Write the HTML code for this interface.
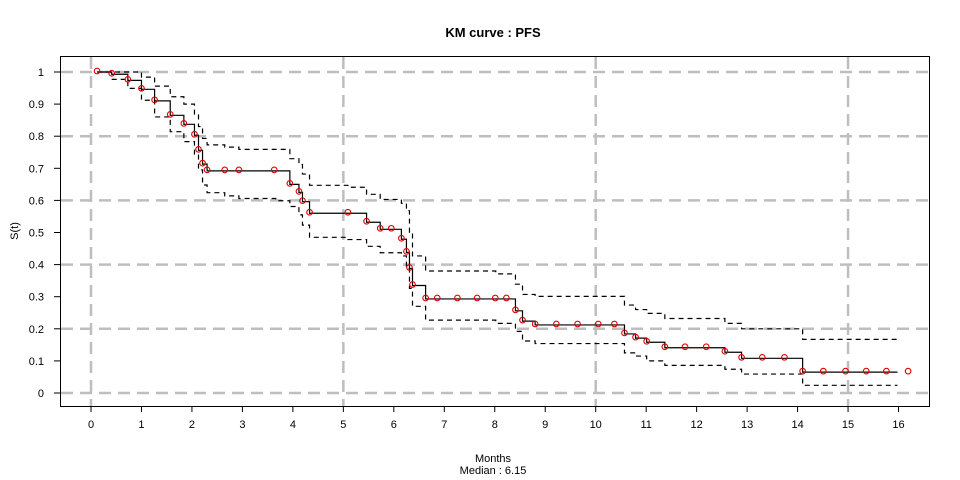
<!DOCTYPE html>
<html><head><meta charset="utf-8"><style>
body{margin:0;background:#fff;}
svg{display:block;font-family:"Liberation Sans",Arial,sans-serif;}
</style></head><body>
<svg id="chart" width="960" height="480" viewBox="0 0 960 480" xmlns="http://www.w3.org/2000/svg">
<text x="493" y="37" text-anchor="middle" font-size="13" font-weight="bold">KM curve : PFS</text>
<text x="0" y="0" transform="translate(18,231) rotate(-90)" text-anchor="middle" font-size="11">S(t)</text>
<text x="493" y="462" text-anchor="middle" font-size="11">Months</text>
<text x="493" y="474" text-anchor="middle" font-size="11">Median : 6.15</text>
<g id="grid"></g><g id="axes"></g><g id="bands"></g><g id="curve"></g><g id="marks"></g>
<rect x="60.5" y="56.5" width="869" height="350" fill="none" stroke="#000" stroke-width="1"/>
</svg>
<script>
const xTicks=[0,1,2,3,4,5,6,7,8,9,10,11,12,13,14,15,16];
const yTicks=[0,0.1,0.2,0.3,0.4,0.5,0.6,0.7,0.8,0.9,1];
const yTickLabels=["0","0.1","0.2","0.3","0.4","0.5","0.6","0.7","0.8","0.9","1"];
const gridX=[0,5,10,15];
const gridY=[0,0.2,0.4,0.6,0.8,1];
const survTimes=[0.12,0.41,0.73,1.0,1.26,1.57,1.84,2.05,2.13,2.21,2.30,3.94,4.12,4.19,4.33,5.46,5.73,6.15,6.25,6.31,6.37,6.63,8.41,8.55,8.80,10.57,10.79,11.01,11.37,12.56,12.89,14.10];
const survValues=[1,0.993,0.974,0.946,0.91,0.865,0.837,0.803,0.756,0.713,0.692,0.650,0.625,0.596,0.560,0.532,0.51,0.479,0.438,0.388,0.335,0.293,0.256,0.224,0.212,0.184,0.171,0.158,0.141,0.127,0.108,0.065];
const upperTimes=[0.12,1.0,1.26,1.57,1.84,2.05,2.13,2.21,2.30,2.65,2.93,3.94,4.12,4.19,4.33,5.09,5.46,5.73,6.15,6.25,6.31,6.37,6.63,8.02,8.41,8.55,8.80,10.57,10.79,11.01,11.37,12.56,12.89,14.10];
const upperValues=[1,0.984,0.956,0.923,0.9,0.866,0.83,0.793,0.773,0.766,0.759,0.73,0.712,0.682,0.647,0.641,0.619,0.603,0.591,0.568,0.50,0.427,0.38,0.371,0.339,0.307,0.301,0.274,0.26,0.248,0.232,0.217,0.2,0.167];
const lowerTimes=[0.41,0.73,1.0,1.26,1.57,1.84,2.05,2.13,2.21,2.30,2.65,2.93,3.66,3.94,4.12,4.19,4.33,5.09,5.46,5.73,6.15,6.25,6.31,6.37,6.63,8.02,8.41,8.55,8.80,10.57,10.79,11.01,11.37,12.56,12.89,14.10];
const lowerValues=[0.977,0.949,0.912,0.86,0.814,0.783,0.741,0.695,0.648,0.624,0.614,0.606,0.599,0.581,0.555,0.523,0.485,0.478,0.457,0.437,0.427,0.388,0.326,0.27,0.227,0.217,0.192,0.162,0.154,0.125,0.115,0.1,0.086,0.074,0.059,0.024];
const endTime=15.98;
const censorTimes=[0.12,0.41,0.73,1.0,1.26,1.57,1.84,2.05,2.13,2.21,2.30,2.65,2.93,3.63,3.94,4.12,4.19,4.33,5.09,5.46,5.73,5.95,6.15,6.25,6.31,6.37,6.63,6.86,7.26,7.65,8.01,8.23,8.41,8.55,8.80,9.22,9.64,10.05,10.37,10.57,10.79,11.01,11.37,11.77,12.19,12.56,12.89,13.30,13.74,14.10,14.51,14.95,15.36,15.76,16.19];

const NS="http://www.w3.org/2000/svg";
const X=t=>91+t*50.47;
const Y=s=>393-s*321;
function mk(tag,attrs,parent){const e=document.createElementNS(NS,tag);for(const k in attrs)e.setAttribute(k,attrs[k]);document.getElementById(parent).appendChild(e);return e;}
function stepPath(ts,vs,end){let d="M"+X(ts[0])+","+Y(vs[0]);for(let i=1;i<ts.length;i++){d+="H"+X(ts[i])+"V"+Y(vs[i]);}d+="H"+X(end);return d;}
function valAt(t){let v=survValues[0];for(let i=0;i<survTimes.length;i++){if(survTimes[i]<=t+1e-9)v=survValues[i];}return v;}

gridX.forEach(g=>{const l=mk("line",{x1:X(g),x2:X(g),y1:57,y2:406,stroke:"#bebebe","stroke-width":2.5,"stroke-dasharray":"12,7"},"grid");

});
gridY.forEach(g=>{const l=mk("line",{x1:61,x2:929,y1:Y(g),y2:Y(g),stroke:"#bebebe","stroke-width":2.5,"stroke-dasharray":"12,7"},"grid");

});
xTicks.forEach(t=>{const l=mk("line",{x1:X(t),x2:X(t),y1:406,y2:412,stroke:"#000"},"axes");


const tx=mk("text",{x:X(t),y:428,"text-anchor":"middle","font-size":"11"},"axes");tx.textContent=String(t);

});
yTicks.forEach((v,i)=>{const l=mk("line",{x1:54,x2:60,y1:Y(v),y2:Y(v),stroke:"#000"},"axes");


const tx=mk("text",{x:44,y:Y(v)+4,"text-anchor":"end","font-size":"11"},"axes");tx.textContent=yTickLabels[i];

});
const up=mk("path",{d:stepPath(upperTimes,upperValues,endTime),fill:"none",stroke:"#000","stroke-width":1.2,"stroke-dasharray":"5,4"},"bands");


const lo=mk("path",{d:stepPath(lowerTimes,lowerValues,endTime),fill:"none",stroke:"#000","stroke-width":1.2,"stroke-dasharray":"5,4"},"bands");


const km=mk("path",{d:stepPath(survTimes,survValues,endTime),fill:"none",stroke:"#000","stroke-width":1.2},"curve");


censorTimes.forEach(t=>{const c=mk("circle",{cx:X(t),cy:Y(valAt(t))-1,r:2.8,fill:"none",stroke:"#e00000","stroke-width":1.1},"marks");

});
</script>
</body></html>
